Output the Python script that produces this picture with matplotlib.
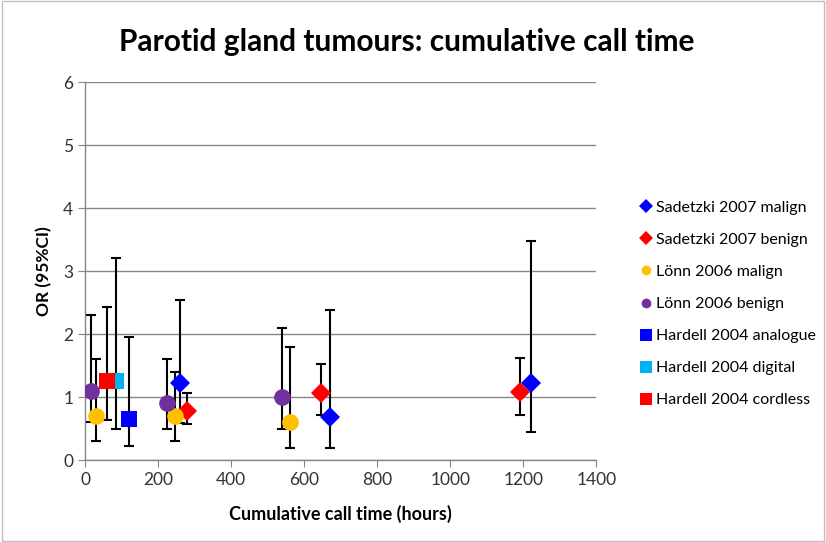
import matplotlib.pyplot as plt
from matplotlib.lines import Line2D

plt.rcParams['font.family'] = ['Lato', 'DejaVu Sans']

# ============================================================
# DATA  (hours, OR, lower CI, upper CI)
# ============================================================

series_names = [
    "Sadetzki 2007 malign",
    "Sadetzki 2007 benign",
    "Lönn 2006 malign",
    "Lönn 2006 benign",
    "Hardell 2004 analogue",
    "Hardell 2004 digital",
    "Hardell 2004 cordless",
]

sadetzki_malign_x = [260, 670, 1220]
sadetzki_malign_or = [1.22, 0.68, 1.22]
sadetzki_malign_lo = [0.59, 0.20, 0.44]
sadetzki_malign_hi = [2.54, 2.38, 3.48]

sadetzki_benign_x = [280, 645, 1190]
sadetzki_benign_or = [0.78, 1.06, 1.09]
sadetzki_benign_lo = [0.58, 0.72, 0.72]
sadetzki_benign_hi = [1.07, 1.53, 1.62]

lonn_malign_x = [30, 245, 560]
lonn_malign_or = [0.7, 0.7, 0.6]
lonn_malign_lo = [0.3, 0.3, 0.2]
lonn_malign_hi = [1.6, 1.4, 1.8]

lonn_benign_x = [15, 225, 540]
lonn_benign_or = [1.1, 0.9, 1.0]
lonn_benign_lo = [0.6, 0.5, 0.5]
lonn_benign_hi = [2.3, 1.6, 2.1]

hardell_analogue_x = [120]
hardell_analogue_or = [0.66]
hardell_analogue_lo = [0.23]
hardell_analogue_hi = [1.95]

hardell_digital_x = [85]
hardell_digital_or = [1.25]
hardell_digital_lo = [0.5]
hardell_digital_hi = [3.21]

hardell_cordless_x = [60]
hardell_cordless_or = [1.25]
hardell_cordless_lo = [0.63]
hardell_cordless_hi = [2.44]

series = [
    (sadetzki_malign_x, sadetzki_malign_or, sadetzki_malign_lo, sadetzki_malign_hi),
    (sadetzki_benign_x, sadetzki_benign_or, sadetzki_benign_lo, sadetzki_benign_hi),
    (lonn_malign_x, lonn_malign_or, lonn_malign_lo, lonn_malign_hi),
    (lonn_benign_x, lonn_benign_or, lonn_benign_lo, lonn_benign_hi),
    (hardell_analogue_x, hardell_analogue_or, hardell_analogue_lo, hardell_analogue_hi),
    (hardell_digital_x, hardell_digital_or, hardell_digital_lo, hardell_digital_hi),
    (hardell_cordless_x, hardell_cordless_or, hardell_cordless_lo, hardell_cordless_hi),
]

colors = ["#0000FF", "#FF0000", "#FFC000", "#7030A0", "#0000FF", "#00B0F0", "#FF0000"]
markers = ["D", "D", "o", "o", "s", "s", "s"]
sizes = [10, 10, 12, 12, 11, 11, 11]

# ============================================================
# FIGURE
# ============================================================

fig = plt.figure(figsize=(8.26, 5.42), dpi=100)

# outer chart border
fig.patches.append(plt.Rectangle(
    (0.002, 0.002), 0.996, 0.996,
    transform=fig.transFigure,
    fill=False, edgecolor="#BFBFBF", linewidth=1
))

ax = fig.add_axes([0.103, 0.151, 0.619, 0.697])

# error bars first, then markers on top
for (x, y, lo, hi) in series:
    yerr = [[v - l for v, l in zip(y, lo)], [h - v for v, h in zip(y, hi)]]
    ax.errorbar(x, y, yerr=yerr, fmt="none", ecolor="black",
                elinewidth=1.5, capsize=3.5, capthick=1.5, zorder=3)

handles = []
for (x, y, lo, hi), name, c, m, s in zip(series, series_names, colors, markers, sizes):
    ax.plot(x, y, linestyle="none", marker=m, color=c,
            markersize=s, markeredgewidth=0, zorder=4)
    handles.append(Line2D([], [], linestyle="none", marker=m, color=c,
                          markersize=7 if m != "s" else 8, markeredgewidth=0,
                          label=name))

ax.set_xlim(0, 1400)
ax.set_ylim(0, 6)
ax.set_xticks(range(0, 1401, 200))
ax.set_yticks(range(0, 7))

ax.yaxis.grid(True, color="#868686", linewidth=1)
ax.set_axisbelow(True)

for side in ["top", "right"]:
    ax.spines[side].set_visible(False)
for side in ["left", "bottom"]:
    ax.spines[side].set_color("#868686")
    ax.spines[side].set_linewidth(1)

ax.tick_params(axis="both", labelsize=12.5, color="#868686",
               length=5, direction="out", labelcolor="#333333")

ax.set_xlabel("Cumulative call time (hours)", fontsize=13,
              fontweight="bold", labelpad=12)
ax.set_ylabel("OR (95%CI)", fontsize=12.5, fontweight="bold", labelpad=8)

fig.text(0.493, 0.922, "Parotid gland tumours: cumulative call time",
         ha="center", va="center", fontsize=21.5, fontweight="bold")

fig.legend(handles=handles, loc="center left",
           bbox_to_anchor=(0.765, 0.439), frameon=False,
           fontsize=11.5, labelspacing=1.12, handletextpad=0.1,
           handlelength=1.0, borderaxespad=0)

plt.savefig("out.png", dpi=100)
